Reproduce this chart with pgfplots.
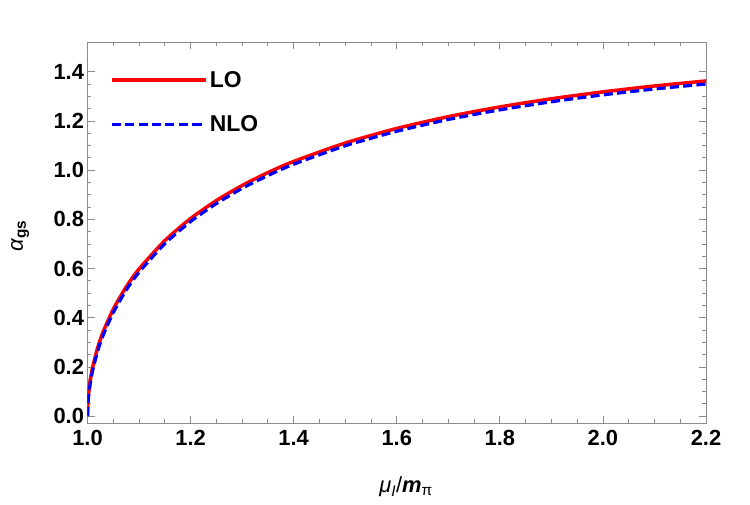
\documentclass[border=0pt]{standalone}
\usepackage{fontspec}
\setmainfont{Liberation Sans}
\usepackage{pgfplots}
\pgfplotsset{compat=1.18}
\definecolor{framegray}{gray}{0.55}
\begin{document}
\begin{tikzpicture}
\path[use as bounding box] (-87.5bp,-82bp) rectangle (662.5bp,423bp);
\begin{axis}[
  scale only axis, width=618.5bp, height=381bp,
  xmin=1.0, xmax=2.2, ymin=-0.028, ymax=1.521,
  xtick={1.0,1.2,1.4,1.6,1.8,2.0,2.2},
  ytick={0,0.2,0.4,0.6,0.8,1.0,1.2,1.4},
  minor x tick num=3, minor y tick num=3,
  tick align=inside,
  major tick length=7.5bp, minor tick length=4bp,
  axis line style={draw=framegray, line width=0.9bp},
  every tick/.style={draw=framegray, line width=0.8bp},
  tick label style={font=\fontsize{22}{24}\selectfont\bfseries, text=black},
  xticklabel style={yshift=-4bp},
  /pgf/number format/.cd, fixed, fixed zerofill, precision=1, assume math mode=true, /pgfplots/.cd,
  xlabel={\fontsize{22}{24}\selectfont\textit{μ}\textsubscript{\textit{I}}/\textbf{\textit{m}}\textsubscript{π}},
  x label style={at={(axis description cs:0.515,-0.168)}, anchor=center},
  ylabel={\fontsize{22}{24}\selectfont\textit{α}\textsubscript{\textbf{gs}}},
  y label style={at={(axis description cs:-0.109,0.491)}, anchor=center},
  legend style={draw=none, fill=none, at={(axis description cs:0.0365,0.929)}, anchor=north west,
    font=\fontsize{23}{25}\selectfont\bfseries, row sep=23bp, inner sep=0pt},
  legend cell align=left,
  legend image code/.code={\draw[#1] (0bp,0bp) -- (81bp,0bp); \path (81bp,0bp) -- (94bp,0bp);},
]
\addplot[color=red, line width=3.5bp, smooth, tension=0.4] coordinates {
(1.0,0) (1.001,0.0632) (1.002,0.0893) (1.005,0.1410) (1.01,0.1988) (1.02,0.2796) (1.03,0.3405)
(1.05,0.4346) (1.075,0.5250) (1.1,0.5980) (1.15,0.7134) (1.2,0.8031) (1.25,0.8763) (1.3,0.9376)
(1.35,0.9900) (1.4,1.0354) (1.5,1.1102) (1.6,1.1695) (1.7,1.2175) (1.8,1.2570) (1.9,1.2901)
(2.0,1.3181) (2.1,1.3421) (2.2,1.3627)
};
\addlegendentry{LO}
\addplot[color=blue, line width=3.2bp, dash pattern=on 9bp off 4.3bp, smooth, tension=0.4] coordinates {
(1.0,0) (1.001,0.052) (1.002,0.078) (1.005,0.128) (1.01,0.186) (1.02,0.266) (1.03,0.327)
(1.05,0.421) (1.075,0.512) (1.1,0.585) (1.15,0.701) (1.2,0.791) (1.25,0.864) (1.3,0.926)
(1.35,0.978) (1.4,1.024) (1.5,1.099) (1.6,1.158) (1.7,1.206) (1.8,1.245) (1.9,1.278)
(2.0,1.306) (2.1,1.330) (2.2,1.350)
};
\addlegendentry{NLO}
\end{axis}
\end{tikzpicture}
\end{document}
